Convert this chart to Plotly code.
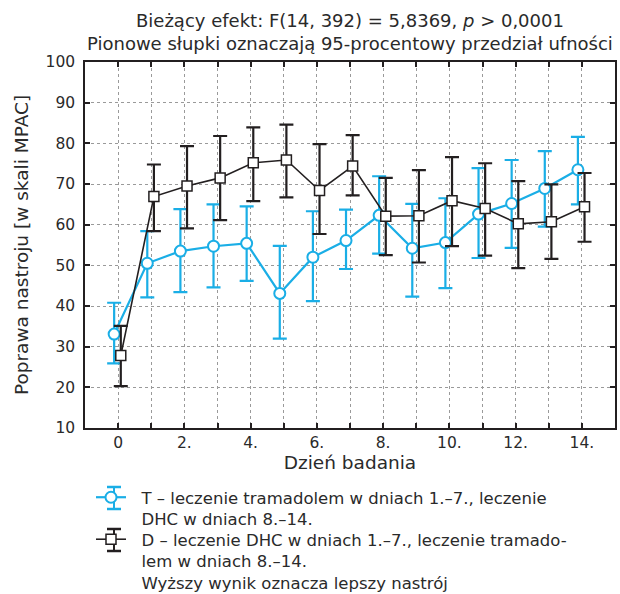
import plotly.graph_objects as go

days = list(range(15))
x_tick_vals = list(range(15))
x_tick_text = ["0", "", "2.", "", "4.", "", "6.", "", "8.", "", "10.", "", "12.", "", "14."]

t_mean = [33.1, 50.5, 53.5, 54.7, 55.4, 43.1, 52.0, 56.1, 62.3, 54.2, 55.6, 62.6, 65.2, 68.9, 73.5]
t_low = [25.9, 42.1, 43.4, 44.6, 46.2, 32.0, 41.2, 49.1, 52.9, 42.3, 44.4, 51.8, 54.3, 59.5, 65.0]
t_high = [40.8, 58.4, 63.8, 65.0, 64.5, 54.8, 63.3, 63.7, 71.9, 65.1, 66.5, 73.9, 75.9, 78.1, 81.6]

d_mean = [27.8, 66.9, 69.5, 71.5, 75.2, 75.9, 68.4, 74.4, 62.1, 62.2, 65.9, 64.0, 60.2, 60.7, 64.4]
d_low = [20.3, 58.4, 59.1, 61.1, 65.8, 66.7, 57.7, 67.2, 52.5, 50.7, 54.7, 52.4, 49.3, 51.6, 55.8]
d_high = [35.1, 74.8, 79.3, 81.8, 83.9, 84.6, 79.8, 82.0, 71.5, 73.4, 76.6, 75.1, 70.7, 69.9, 72.7]

NB = "\u00a0\u00a0"
t_name = NB + "T – leczenie tramadolem w dniach 1.–7., leczenie<br>" + NB + "DHC w dniach 8.–14."
d_name = (NB + "D – leczenie DHC w dniach 1.–7., leczenie tramado-<br>" + NB + "lem w dniach 8.–14."
          "<br>" + NB + "Wyższy wynik oznacza lepszy nastrój")
title_line1 = "Bieżący efekt: F(14, 392) = 5,8369, <i>p</i> > 0,0001"
title_line2 = "Pionowe słupki oznaczają 95-procentowy przedział ufności"

BLUE = "#1aaee6"
BLACK = "#231f20"
TXT = "#2a2a2a"
FONT = "DejaVu Sans"
T_OFF = -0.12
D_OFF = 0.08

W, H = 620, 594
ML, MR, MT, MB = 85, 5, 62, 166
PW, PH = W - ML - MR, H - MT - MB


def px_x(px):
    return (px - ML) / PW


def px_y(py):
    return (H - MB - py) / PH


fig = go.Figure()
fig.add_trace(go.Scatter(
    x=[d + T_OFF for d in days], y=t_mean, name=t_name, mode="lines+markers",
    legend="legend",
    line=dict(color=BLUE, width=2.2),
    marker=dict(symbol="circle", size=11, color="white", line=dict(color=BLUE, width=2)),
    error_y=dict(type="data", symmetric=False,
                 array=[h - m for h, m in zip(t_high, t_mean)],
                 arrayminus=[m - l for m, l in zip(t_mean, t_low)],
                 color=BLUE, thickness=2.2, width=7),
))
fig.add_trace(go.Scatter(
    x=[d + D_OFF for d in days], y=d_mean, name=d_name, mode="lines+markers",
    legend="legend2",
    line=dict(color=BLACK, width=1.6),
    marker=dict(symbol="square", size=10, color="white", line=dict(color=BLACK, width=1.5)),
    error_y=dict(type="data", symmetric=False,
                 array=[h - m for h, m in zip(d_high, d_mean)],
                 arrayminus=[m - l for m, l in zip(d_mean, d_low)],
                 color=BLACK, thickness=2.2, width=7),
))

axis_common = dict(
    showline=True, linecolor=BLACK, linewidth=1.5, mirror="ticks",
    ticks="inside", ticklen=5, tickwidth=1.5, tickcolor=BLACK,
    showgrid=True, gridcolor="#9a9a9a", griddash="dot", gridwidth=1,
    zeroline=False, automargin=False,
    tickfont=dict(family=FONT, size=15.5, color=TXT),
)

legend_common = dict(xanchor="left", yanchor="top", valign="top",
                     font=dict(family=FONT, size=16.5, color=TXT), tracegroupgap=0,
                     bgcolor="rgba(0,0,0,0)")

fig.update_layout(
    width=W, height=H,
    margin=dict(l=ML, r=MR, t=MT, b=MB, autoexpand=False),
    paper_bgcolor="white", plot_bgcolor="white",
    font=dict(family=FONT, size=15, color=TXT),
    xaxis=dict(range=[-1, 15], tickvals=x_tick_vals, ticktext=x_tick_text,
               title=dict(text="Dzień badania", font=dict(family=FONT, size=18.5, color=TXT), standoff=4),
               **axis_common),
    yaxis=dict(range=[10, 100], dtick=10, ticklabelstandoff=5,
               title=dict(text="Poprawa nastroju [w skali MPAC]", font=dict(family=FONT, size=18.5, color=TXT), standoff=12),
               **axis_common),
    showlegend=True,
    legend=dict(x=px_x(91), y=px_y(480), **legend_common),
    legend2=dict(x=px_x(91), y=px_y(522), **legend_common),
)

fig.add_annotation(text=title_line1, xref="paper", yref="paper", x=0.5, y=px_y(20),
                   xanchor="center", yanchor="middle", showarrow=False,
                   font=dict(family=FONT, size=18, color=TXT))
fig.add_annotation(text=title_line2, xref="paper", yref="paper", x=0.5, y=px_y(43),
                   xanchor="center", yanchor="middle", showarrow=False,
                   font=dict(family=FONT, size=18, color=TXT))

# error-bar glyphs on the legend symbols
for color, cy in ((BLUE, 498), (BLACK, 540)):
    cx = 114
    fig.add_shape(type="line", xref="paper", yref="paper",
                  x0=px_x(cx), x1=px_x(cx), y0=px_y(cy - 11), y1=px_y(cy + 11),
                  line=dict(color=color, width=2))
    for yy in (cy - 11, cy + 11):
        fig.add_shape(type="line", xref="paper", yref="paper",
                      x0=px_x(cx - 7), x1=px_x(cx + 7), y0=px_y(yy), y1=px_y(yy),
                      line=dict(color=color, width=2.5))

fig.write_html("out.html", config={"displayModeBar": False},
               post_script="document.body.style.margin='0';document.body.style.overflow='hidden';")
